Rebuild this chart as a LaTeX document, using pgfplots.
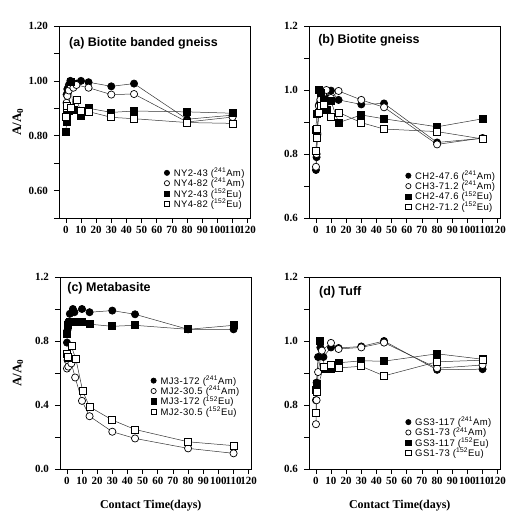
\documentclass[border=0pt]{standalone}
\usepackage{fontspec}
\setmainfont{Liberation Serif}
\newfontfamily\arial{Liberation Sans}
\newfontfamily\arialwide[LetterSpace=4]{Liberation Sans}
\usepackage{pgfplots}
\pgfplotsset{compat=1.18}

\tikzset{titlenode/.style={anchor=west, font=\arial\fontsize{12.5}{14}\selectfont\bfseries}}

\pgfplotsset{
  panel/.style={
    width=191pt, height=192pt, scale only axis,
    xmin=-4.5, xmax=121.5,
    xtick={0,10,...,120},
    tick align=outside, xtick pos=left, ytick pos=left,
    major tick length=5pt, minor tick length=5pt,
    every tick/.style={black, line width=0.6pt},
    axis line style={line width=0.8pt},
    tick label style={font=\fontsize{11}{13}\selectfont\bfseries},
    yticklabel style={xshift=-2.5pt},
    /pgf/number format/assume math mode=true,
    legend cell align=left,
    legend style={draw=none, fill=none, anchor=north west,
      font=\arialwide\fontsize{9.5}{10}\selectfont, row sep=-2.6pt, inner sep=0pt,
      nodes={inner sep=1.5pt}},
    legend image code/.code={\draw[#1,only marks,mark size=2.6pt] plot coordinates {(0.12cm,0cm)};
      \path (0cm,0cm) (0.3cm,0cm);},
    xlabel style={font=\fontsize{12}{14}\selectfont\bfseries},
    ylabel style={font=\fontsize{13}{15}\selectfont\bfseries},
  },
  amf/.style={black!80, line width=0.5pt, mark=*, mark size=3.6pt,
    mark options={draw=black, fill=black, line width=0.7pt}},
  amo/.style={black!80, line width=0.5pt, mark=*, mark size=3.6pt,
    mark options={draw=black, fill=white, line width=0.7pt}},
  euf/.style={black!80, line width=0.5pt, mark=square*, mark size=3.5pt,
    mark options={draw=black, fill=black, line width=0.7pt}},
  euo/.style={black!80, line width=0.5pt, mark=square*, mark size=3.5pt,
    mark options={draw=black, fill=white, line width=0.7pt}},
}

\begin{document}
\begin{tikzpicture}
\path[use as bounding box] (0,0) rectangle (512pt,-514pt);

% (a) Biotite banded gneiss
\begin{axis}[panel, at={(59pt,-26pt)}, anchor=north west,
    ymin=0.5, ymax=1.2, ytick={0.6,0.8,1.0,1.2}, minor ytick={0.5,0.7,0.9,1.1},
    yticklabel style={/pgf/number format/.cd, fixed, fixed zerofill, precision=2},
    ylabel={A/A\textsubscript{0}},
    ylabel style={at={(axis description cs:-0.215,0.5)}, anchor=center},
    legend style={at={(rel axis cs:0.545,0.27)}}]
\addplot[amf] coordinates {(0.5,0.95) (1,0.97) (2,0.985) (3,1.0) (5,0.985) (7,0.99) (10,1.0) (15,0.995) (30,0.98) (45,0.99) (80,0.86) (110,0.875)};
\addlegendentry{NY2-43 (\textsuperscript{241}Am)}
\addplot[amo] coordinates {(0.5,0.92) (1,0.945) (2,0.965) (3,0.985) (5,0.975) (7,0.985) (15,0.975) (30,0.95) (45,0.952) (80,0.85) (110,0.868)};
\addlegendentry{NY4-82 (\textsuperscript{241}Am)}
\addplot[euf] coordinates {(0.1,0.815) (0.5,0.85) (1,0.875) (2,0.89) (3,0.995) (5,0.895) (10,0.873) (15,0.9) (30,0.885) (45,0.89) (80,0.887) (110,0.882)};
\addlegendentry{NY2-43 (\textsuperscript{152}Eu)}
\addplot[euo] coordinates {(0.1,0.87) (0.5,0.9) (1,0.91) (3,0.9) (7,0.93) (10,0.89) (15,0.888) (30,0.867) (45,0.862) (80,0.848) (110,0.845)};
\addlegendentry{NY4-82 (\textsuperscript{152}Eu)}
\node[titlenode] at (rel axis cs:0.035,0.912) {(a) Biotite banded gneiss};
\end{axis}

% (b) Biotite gneiss
\begin{axis}[panel, at={(309pt,-26pt)}, anchor=north west,
    ymin=0.6, ymax=1.2, ytick={0.6,0.8,1.0,1.2}, minor ytick={0.7,0.9,1.1},
    yticklabel style={/pgf/number format/.cd, fixed, fixed zerofill, precision=1},
    legend style={at={(rel axis cs:0.5,0.255)}}]
\addplot[amf] coordinates {(0.1,0.75) (0.5,0.79) (1,0.86) (2,0.953) (3,0.965) (5,0.97) (7,0.975) (10,0.998) (15,0.969) (30,0.955) (45,0.958) (80,0.836) (110,0.849)};
\addlegendentry{CH2-47.6 (\textsuperscript{241}Am)}
\addplot[amo] coordinates {(0.1,0.76) (0.5,0.8) (1,0.865) (2,0.95) (3,0.97) (5,0.99) (7,1.0) (10,0.975) (15,0.997) (30,0.969) (45,0.946) (80,0.83) (110,0.85)};
\addlegendentry{CH3-71.2 (\textsuperscript{241}Am)}
\addplot[euf] coordinates {(0.1,0.875) (0.5,0.924) (2,1.0) (3,0.99) (5,0.969) (7,0.937) (10,0.965) (15,0.898) (30,0.922) (45,0.91) (80,0.885) (110,0.91)};
\addlegendentry{CH2-47.6 (\textsuperscript{152}Eu)}
\addplot[euo] coordinates {(0.1,0.81) (0.5,0.85) (1,0.88) (2,0.93) (3,0.95) (5,0.955) (10,0.917) (15,0.93) (30,0.898) (45,0.878) (80,0.87) (110,0.847)};
\addlegendentry{CH2-71.2 (\textsuperscript{152}Eu)}
\node[titlenode] at (rel axis cs:0.03,0.927) {(b) Biotite gneiss};
\end{axis}

% (c) Metabasite
\begin{axis}[panel, at={(60pt,-277pt)}, anchor=north west,
    ymin=0, ymax=1.2, ytick={0,0.4,0.8,1.2}, minor ytick={0.2,0.6,1.0},
    yticklabel style={/pgf/number format/.cd, fixed, fixed zerofill, precision=1},
    ylabel={A/A\textsubscript{0}},
    ylabel style={at={(axis description cs:-0.22,0.5)}, anchor=center},
    xlabel={Contact Time(days)},
    xlabel style={at={(axis description cs:0.475,-0.19)}, anchor=center},
    legend style={at={(rel axis cs:0.47,0.495)}}]
\addplot[amf] coordinates {(0.1,0.79) (0.5,0.87) (1,0.92) (2,0.97) (4,1.0) (5,0.98) (10,1.0) (15,0.98) (30,0.99) (45,0.967) (80,0.873) (110,0.873)};
\addlegendentry{MJ3-172 (\textsuperscript{241}Am)}
\addplot[amo] coordinates {(0.1,0.628) (0.5,0.68) (1,0.64) (2,0.69) (3,0.66) (5.5,0.572) (10,0.426) (15,0.33) (30,0.233) (45,0.191) (80,0.129) (110,0.098)};
\addlegendentry{MJ2-30.5 (\textsuperscript{241}Am)}
\addplot[euf] coordinates {(0.1,0.846) (0.5,0.9) (2,0.92) (4,0.92) (7,0.92) (10,0.919) (15,0.905) (30,0.892) (45,0.898) (80,0.873) (110,0.898)};
\addlegendentry{MJ3-172 (\textsuperscript{152}Eu)}
\addplot[euo] coordinates {(0.1,0.72) (0.5,0.696) (1,0.7) (3,0.767) (6,0.686) (10.5,0.486) (15,0.389) (30,0.306) (45,0.247) (80,0.17) (110,0.146)};
\addlegendentry{MJ2-30.5 (\textsuperscript{152}Eu)}
\node[titlenode] at (rel axis cs:0.02,0.94) {(c) Metabasite};
\end{axis}

% (d) Tuff
\begin{axis}[panel, at={(309pt,-277pt)}, anchor=north west,
    ymin=0.6, ymax=1.2, ytick={0.6,0.8,1.0,1.2}, minor ytick={0.7,0.9,1.1},
    yticklabel style={/pgf/number format/.cd, fixed, fixed zerofill, precision=1},
    xlabel={Contact Time(days)},
    xlabel style={at={(axis description cs:0.475,-0.19)}, anchor=center},
    legend style={at={(rel axis cs:0.5,0.279)}}]
\addplot[amf] coordinates {(0.1,0.815) (0.5,0.87) (1.5,0.95) (3,0.98) (5,0.95) (10,0.98) (15,0.978) (30,0.983) (45,1.0) (80,0.91) (110,0.912)};
\addlegendentry{GS3-117 (\textsuperscript{241}Am)}
\addplot[amo] coordinates {(0.1,0.74) (0.5,0.815) (1.5,0.903) (4,0.97) (10,0.994) (15,0.975) (30,0.98) (45,0.995) (80,0.915) (110,0.925)};
\addlegendentry{GS1-73 (\textsuperscript{241}Am)}
\addplot[euf] coordinates {(0.1,0.846) (0.5,0.867) (2.5,1.0) (6,0.914) (10,0.914) (15,0.932) (30,0.938) (45,0.937) (80,0.96) (110,0.943)};
\addlegendentry{GS3-117 (\textsuperscript{152}Eu)}
\addplot[euo] coordinates {(0.1,0.774) (0.5,0.84) (5,0.92) (10,0.927) (15,0.916) (30,0.921) (45,0.891) (80,0.935) (110,0.94)};
\addlegendentry{GS1-73 (\textsuperscript{152}Eu)}
\node[titlenode] at (rel axis cs:0.035,0.923) {(d) Tuff};
\end{axis}
\end{tikzpicture}
\end{document}
